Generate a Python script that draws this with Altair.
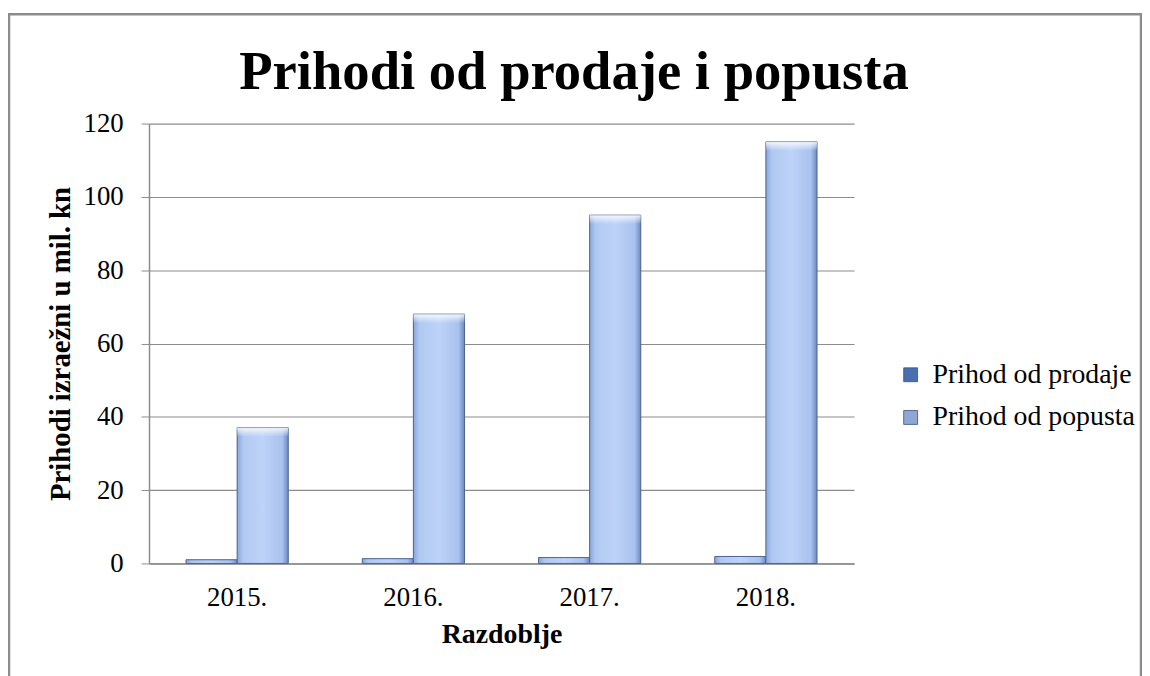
import altair as alt
import pandas as pd

years = ["2015.", "2016.", "2017.", "2018."]
series = ["Prihod od prodaje", "Prihod od popusta"]
prodaje = [1.0, 1.3, 1.6, 1.9]
popusta = [37, 68, 95, 115]
y_ticks = [0, 20, 40, 60, 80, 100, 120]

rows = []
for i, yr in enumerate(years):
    rows.append({"Razdoblje": yr, "Serija": series[0], "Vrijednost": prodaje[i]})
    rows.append({"Razdoblje": yr, "Serija": series[1], "Vrijednost": popusta[i]})
df = pd.DataFrame(rows)

FONT = "Liberation Serif"
GRAY = "#8c8c8c"

grad = alt.LinearGradient(
    gradient="linear", x1=0, x2=1, y1=0, y2=0,
    stops=[
        alt.GradientStop(color="#8aa6da", offset=0),
        alt.GradientStop(color="#b1c9f1", offset=0.12),
        alt.GradientStop(color="#bdd3f8", offset=0.5),
        alt.GradientStop(color="#a9c2ee", offset=0.88),
        alt.GradientStop(color="#6f88bd", offset=1),
    ],
)
top_grad = alt.LinearGradient(
    gradient="linear", x1=0, x2=0, y1=0, y2=1,
    stops=[
        alt.GradientStop(color="rgba(255,255,255,0.85)", offset=0),
        alt.GradientStop(color="rgba(255,255,255,0.0)", offset=1),
    ],
)

x_enc = alt.X(
    "Razdoblje:N", sort=years,
    scale=alt.Scale(paddingInner=0.42, paddingOuter=0.21),
    axis=alt.Axis(
        title="Razdoblje", labelAngle=0, ticks=False, grid=False, domainColor=GRAY, domainWidth=1.5,
        labelFont=FONT, labelFontSize=27, labelColor="black",
        labelBaseline="alphabetic", labelPadding=42,
        titleFont=FONT, titleFontSize=28, titleFontWeight="bold", titleColor="black",
        titleX=355, titleY=80, titleBaseline="alphabetic", titleAlign="center",
    ),
)
y_enc = alt.Y(
    "Vrijednost:Q",
    scale=alt.Scale(domain=[0, 120], nice=False),
    axis=alt.Axis(
        title="Prihodi izraežni u mil. kn", values=y_ticks,
        tickSize=8, tickColor=GRAY, domainColor=GRAY, domainWidth=1.5,
        gridColor=GRAY, gridWidth=1.2,
        labelFont=FONT, labelFontSize=27, labelColor="black", labelPadding=18,
        titleFont=FONT, titleFontSize=29, titleFontWeight="bold", titleColor="black",
        titleX=-80, titleY=221.5, titleAngle=-90, titleBaseline="alphabetic", titleAlign="center",
    ),
)
xoff = alt.XOffset("Serija:N", sort=series, scale=alt.Scale(paddingInner=0, paddingOuter=0))

base = alt.Chart(df).mark_bar().encode(
    x=x_enc, y=y_enc, xOffset=xoff,
    color=alt.Color(
        "Serija:N", sort=series,
        scale=alt.Scale(domain=series, range=["#4a6fae", "#8fa7d3"]),
        legend=alt.Legend(
            title=None, orient="none", legendX=753, legendY=239,
            symbolType="square", symbolSize=196, symbolStrokeColor="#3b5080", symbolStrokeWidth=0.8,
            labelFont=FONT, labelFontSize=28, labelColor="black", labelOffset=8,
            labelLimit=400, rowPadding=15,
        ),
    ),
)

overlay = alt.Chart(df).mark_bar(color=grad, stroke="#4f6592", strokeWidth=1).encode(
    x=alt.X("Razdoblje:N", sort=years), y="Vrijednost:Q", xOffset=alt.XOffset("Serija:N", sort=series),
)

bevel = alt.Chart(df).transform_filter(
    alt.datum.Serija == series[1]
).mark_rect(fill=top_grad, y2Offset=9, xOffset=1, x2Offset=-1).encode(
    x=alt.X("Razdoblje:N", sort=years), xOffset=alt.XOffset("Serija:N", sort=series),
    y="Vrijednost:Q", y2=alt.Y2("Vrijednost:Q"),
)

frame = alt.Chart(alt.Data(values=[{"a": 1}])).mark_rect(
    fill=None, stroke=GRAY, strokeWidth=2.5
).encode(
    x=alt.value(-141), x2=alt.value(999), y=alt.value(-110), y2=alt.value(620)
)

chart = alt.layer(frame, base, overlay, bevel).properties(
    width=710, height=443,
    background="white",
    title=alt.TitleParams(
        "Prihodi od prodaje i popusta", font=FONT, fontSize=55, fontWeight="bold",
        color="black", anchor="middle", dx=73, offset=-131, baseline="alphabetic",
    ),
    autosize=alt.AutoSizeParams(type="none"),
    padding={"left": 142, "top": 114, "right": 290, "bottom": 111},
).configure_view(stroke=None, strokeWidth=0)

chart.save("out.html", embed_options={"renderer": "svg", "actions": False})
